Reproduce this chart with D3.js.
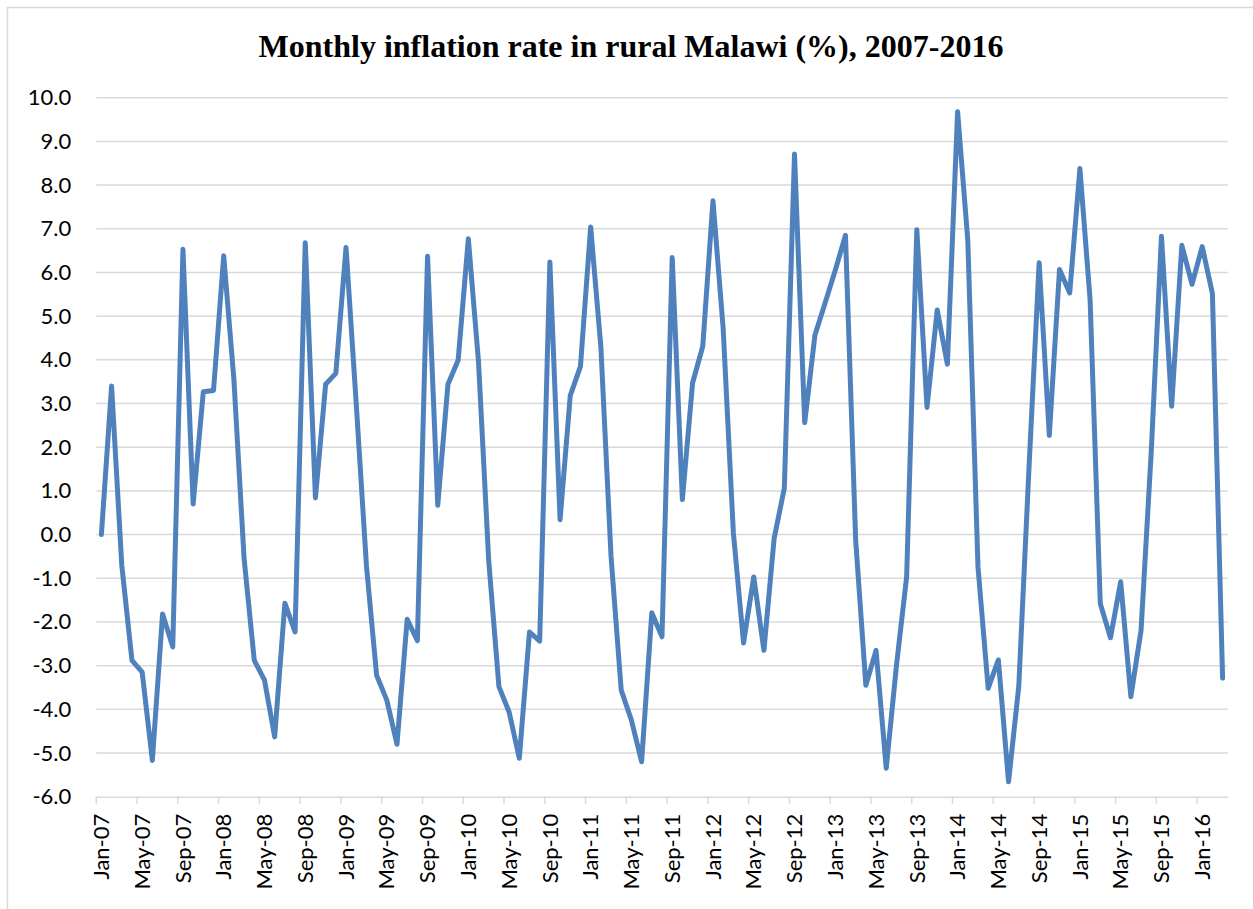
<!DOCTYPE html>
<html>
<head>
<meta charset="utf-8">
<script src="https://cdn.jsdelivr.net/npm/d3@7"></script>
<style>
  body { margin: 0; background: #fff; }
  svg { display: block; }
</style>
</head>
<body>
<svg id="chart" width="1253" height="909"></svg>
<script>
// month names + years give the monthly categories Jan-07 .. Mar-16
var monthNames = ["Jan","Feb","Mar","Apr","May","Jun","Jul","Aug","Sep","Oct","Nov","Dec"];
var years = ["07","08","09","10","11","12","13","14","15","16"];

// monthly inflation rate, rural Malawi (%)
var inflation = [
  0.0, 3.4, -0.7, -2.88, -3.15, -5.17, -1.82, -2.57, 6.53, 0.7, 3.27, 3.3,
  6.38, 3.55, -0.55, -2.88, -3.33, -4.63, -1.57, -2.23, 6.68, 0.84, 3.44, 3.69,
  6.57, 3.0, -0.7, -3.22, -3.79, -4.8, -1.94, -2.43, 6.37, 0.67, 3.44, 3.99,
  6.77, 3.95, -0.6, -3.48, -4.06, -5.12, -2.23, -2.44, 6.24, 0.34, 3.18, 3.85,
  7.04, 4.3, -0.5, -3.56, -4.25, -5.2, -1.79, -2.34, 6.34, 0.8, 3.47, 4.31,
  7.64, 4.72, 0.05, -2.48, -0.97, -2.65, -0.09, 1.06, 8.71, 2.56, 4.56, 5.3,
  6.05, 6.85, -0.12, -3.45, -2.65, -5.35, -3.0, -0.97, 6.98, 2.91, 5.14, 3.9,
  9.68, 6.74, -0.74, -3.52, -2.87, -5.66, -3.48, 1.5, 6.22, 2.27, 6.07, 5.53,
  8.38, 5.37, -1.58, -2.36, -1.08, -3.71, -2.19, 1.9, 6.83, 2.94, 6.62, 5.73,
  6.59, 5.52, -3.29
];

var yTicks = [-6, -5, -4, -3, -2, -1, 0, 1, 2, 3, 4, 5, 6, 7, 8, 9, 10];

var months = [];
years.forEach(function(y) {
  monthNames.forEach(function(m) { months.push(m + "-" + y); });
});
months = months.slice(0, inflation.length);

// every 4th month gets a label
var xTickLabels = months.filter(function(d, i) { return i % 4 == 0; });

var svg = d3.select("#chart");

var plotLeft = 96.3, plotRight = 1227.7, plotTop = 97.7, plotBottom = 796.7;

// chart frame
svg.append("rect")
  .attr("x", 7.5).attr("y", 7.5)
  .attr("width", 1260).attr("height", 920)
  .attr("fill", "#fff")
  .attr("stroke", "#d9d9d9")
  .attr("stroke-width", 1.5);

svg.append("text")
  .attr("x", 631).attr("y", 57)
  .attr("text-anchor", "middle")
  .style("font-family", "'Liberation Serif', 'Times New Roman', serif")
  .style("font-weight", "bold")
  .style("font-size", "32px")
  .text("Monthly inflation rate in rural Malawi (%), 2007-2016");

var x = d3.scaleBand().domain(months).range([plotLeft, plotRight]).paddingInner(0).paddingOuter(0);
var y = d3.scaleLinear().domain([-6, 10]).range([plotBottom, plotTop]);

// gridlines
svg.append("g")
  .selectAll("line")
  .data(yTicks.slice(1))
  .enter().append("line")
  .attr("x1", plotLeft).attr("x2", plotRight)
  .attr("y1", function(d) { return y(d); })
  .attr("y2", function(d) { return y(d); })
  .attr("stroke", "#d9d9d9")
  .attr("stroke-width", 1.5);

// y axis labels
var yAxis = svg.append("g")
  .attr("transform", "translate(" + plotLeft + ",0)")
  .call(d3.axisLeft(y).tickValues(yTicks).tickSize(0).tickPadding(25)
    .tickFormat(function(d) { return d.toFixed(1); }));
yAxis.select(".domain").remove();
yAxis.selectAll("text")
  .style("font-family", "Lato, 'Liberation Sans', sans-serif")
  .style("font-size", "22px")
  .attr("fill", "#000");

// x axis
var xAxis = svg.append("g")
  .attr("transform", "translate(0," + plotBottom + ")")
  .call(d3.axisBottom(x).tickValues(xTickLabels).tickSize(7).tickSizeOuter(0));
xAxis.select(".domain").attr("stroke", "#d9d9d9").attr("stroke-width", 1.5);
xAxis.selectAll(".tick line")
  .attr("stroke", "#d9d9d9").attr("stroke-width", 1.5)
  .attr("transform", "translate(" + (-x.bandwidth() / 2) + ",0)");
xAxis.selectAll(".tick text")
  .style("font-family", "Lato, 'Liberation Sans', sans-serif")
  .style("font-size", "22px")
  .attr("fill", "#000")
  .attr("text-anchor", "end")
  .attr("dy", "0.35em")
  .attr("transform", "translate(0,9) rotate(-90)")
  .attr("x", -8).attr("y", 0);

// the series
var line = d3.line()
  .x(function(d, i) { return x(months[i]) + x.bandwidth() / 2; })
  .y(function(d) { return y(d); });

svg.append("path")
  .datum(inflation)
  .attr("d", line)
  .attr("fill", "none")
  .attr("stroke", "#4f81bd")
  .attr("stroke-width", 5)
  .attr("stroke-linejoin", "round")
  .attr("stroke-linecap", "round");
</script>
</body>
</html>
